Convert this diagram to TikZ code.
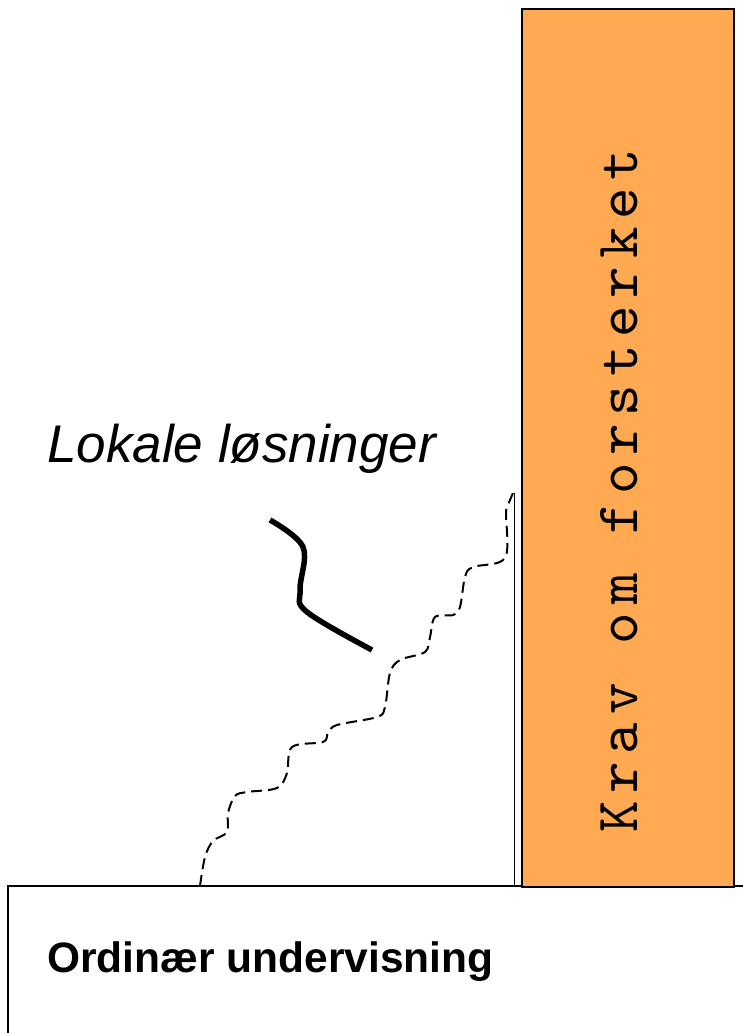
\documentclass[tikz,border=0pt]{standalone}
\usepackage{fontspec}
\setmainfont{Liberation Sans}
\newfontfamily\kravfont{lmmono10-regular.otf}[LetterSpace=13]
\definecolor{orangefill}{RGB}{255,169,82}
\begin{document}
\begin{tikzpicture}[x=1pt,y=-1pt,
  outline/.style={draw=black,line width=2pt},
  dashwave/.style={draw=black,line width=2pt,dash pattern=on 11pt off 6pt},
  thickcurve/.style={draw=black,line width=5.5pt},
  labeltext/.style={inner sep=0pt,font=\fontsize{53}{56}\selectfont\itshape},
  basetext/.style={inner sep=0pt,font=\fontsize{42.5}{46}\selectfont\bfseries},
  vtext/.style={inner sep=0pt,rotate=90,font=\fontsize{60}{64}\kravfont}]
\useasboundingbox (0,0) rectangle (743,1033);
\fill[white] (0,0) rectangle (743,1033);
% base box
\draw[outline] (8,1040) -- (8,886) -- (750,886);
\node[basetext,anchor=base west] (ordinaer) at (47,972) {Ordinær undervisning};
% orange column
\node[outline,fill=orangefill,minimum width=212pt,minimum height=878pt,inner sep=0pt,anchor=north west] (krav) at (521,8) {};
\node[vtext,anchor=base west] (kravtext) at (637,833) {Krav om forsterket};
% thin vertical line
\coordinate (vtop) at (514.5,493);
\coordinate (vbot) at (514.5,886);
\draw[black,line width=1.8pt] (vtop) -- (vbot);
% dashed wavy line
\coordinate (wstart) at (200,886);
\coordinate (wend) at (513,493);
\draw[dashwave] plot[smooth,tension=0.55] coordinates {(wstart) (205,857) (213,841) (227,832) (228,813) (235,796) (247,792) (277,788) (287,773) (292,747) (323,742) (328,733) (337,725) (377,717) (385,707) (390,673) (400,660) (425,652) (430,637) (435,617) (453,615) (460,607) (465,577) (473,567) (505,558) (506,513) (508,505) (wend)};
% label and pointer
\node[labeltext,anchor=base west] (lokale) at (47,462) {Lokale løsninger};
\coordinate (cstart) at (270,520);
\coordinate (cend) at (372,650);
\draw[thickcurve] plot[smooth,tension=0.6] coordinates {(cstart) (303,547) (300,590) (307,612) (cend)};
\end{tikzpicture}
\end{document}
